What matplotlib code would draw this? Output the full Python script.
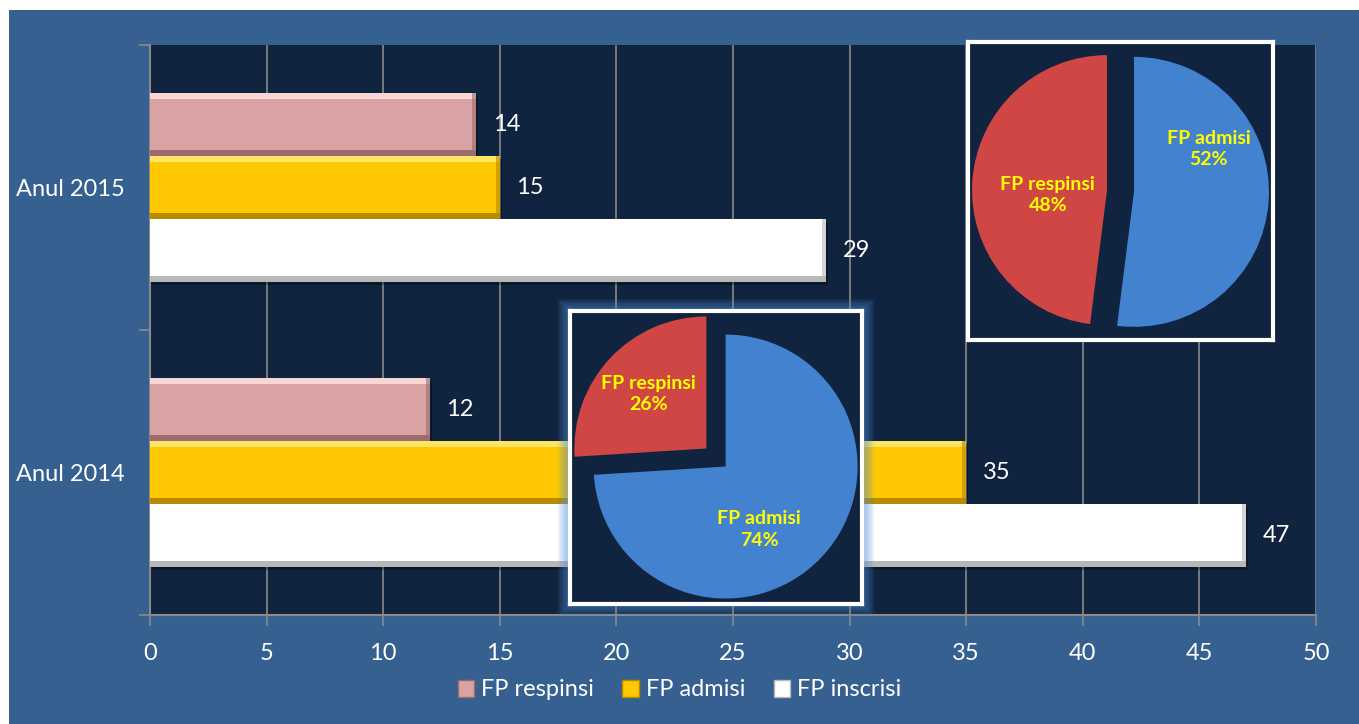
import numpy as np
import matplotlib.pyplot as plt
from matplotlib.patches import Rectangle, Patch

plt.rcParams['font.family'] = ['Lato', 'DejaVu Sans']

# data
years = ['Anul 2014', 'Anul 2015']
series = ['FP respinsi', 'FP admisi', 'FP inscrisi']
respinsi = [12, 14]
admisi = [35, 15]
inscrisi = [47, 29]

pie_labels = ['FP respinsi', 'FP admisi']
pie_2014 = [26, 74]
pie_2015 = [48, 52]

# colours: base, light (top), dark (bottom/right)
bar_colors = {
    'FP respinsi': ('#d9a3a3', '#f7d6d6', '#9c6b6b'),
    'FP admisi': ('#ffc800', '#ffe566', '#b88a00'),
    'FP inscrisi': ('#ffffff', '#ffffff', '#b8b8b8'),
}
bg_blue = '#36608f'
plot_bg = '#10233f'
grid_c = '#8a8a8a'

fig = plt.figure(figsize=(13.59, 7.24), dpi=100, facecolor='white')
fig.patches.append(Rectangle((9 / 1359, 0), 1, 1 - 10 / 724, transform=fig.transFigure,
                             facecolor=bg_blue, edgecolor='none', zorder=-10))

ax = fig.add_axes([150 / 1359, 109 / 724, 1166 / 1359, 570 / 724])
ax.set_facecolor(plot_bg)

h = 0.221
y = np.arange(len(years))
offsets = {'FP respinsi': h, 'FP admisi': 0.0, 'FP inscrisi': -h}
values = {'FP respinsi': respinsi, 'FP admisi': admisi, 'FP inscrisi': inscrisi}

hl = 0.02   # bevel thickness, vertical
hr = 0.18   # bevel thickness, horizontal
for name in series:
    base, light, dark = bar_colors[name]
    yy = y + offsets[name]
    vals = np.array(values[name], dtype=float)
    # drop shadow
    ax.barh(yy - 0.01, vals + 0.08, height=h, color='black', alpha=0.3, zorder=2, linewidth=0)
    ax.barh(yy, vals, height=h, color=base, zorder=3, linewidth=0)
    ax.barh(yy + h / 2 - hl / 2, vals, height=hl, color=light, zorder=4, linewidth=0)
    ax.barh(yy - h / 2 + hl / 2, vals, height=hl, color=dark, zorder=4, linewidth=0)
    ax.barh(yy, hr, left=vals - hr, height=h, color=dark, alpha=0.6, zorder=4, linewidth=0)
    for yi, v in zip(yy, vals):
        ax.text(v + 0.7, yi, f'{v:.0f}', color='white', fontsize=17, va='center', ha='left', zorder=5)

ax.set_xlim(0, 50)
ax.set_ylim(-0.5, 1.5)
ax.set_xticks(np.arange(0, 51, 5))
ax.set_yticks(y)
ax.set_yticklabels(years)
ax.set_yticks([-0.5, 0.5, 1.5], minor=True)
ax.tick_params(axis='y', which='major', length=0, pad=18, labelsize=17, labelcolor='white')
ax.tick_params(axis='y', which='minor', length=8, color=grid_c, width=1.2)
ax.tick_params(axis='x', length=8, color=grid_c, width=1.2, pad=12, labelsize=17, labelcolor='white')
ax.grid(axis='x', color=grid_c, linewidth=1.2, zorder=1)
ax.set_axisbelow(True)
for side in ['top', 'right']:
    ax.spines[side].set_visible(False)
for side in ['left', 'bottom']:
    ax.spines[side].set_color(grid_c)
    ax.spines[side].set_linewidth(1.5)

handles = [Patch(facecolor=bar_colors[n][0], edgecolor=bar_colors[n][2], linewidth=1) for n in series]
fig.legend(handles, series, loc='center', bbox_to_anchor=(0.5, 34 / 724), ncol=3, frameon=False,
           fontsize=17, labelcolor='white', handlelength=0.7, handleheight=0.7,
           handletextpad=0.3, columnspacing=1.2)

pie_colors = ['#d04644', '#4282cf']


def inset_pie(rect, vals, r_px, label_pos, glow=False):
    x0, y0, w, hgt = rect
    if glow:
        for k in range(6, 0, -1):
            pad = k * 2.0
            fig.patches.append(Rectangle(((x0 - pad) / 1359, (724 - y0 - hgt - pad) / 724),
                                         (w + 2 * pad) / 1359, (hgt + 2 * pad) / 724,
                                         transform=fig.transFigure, facecolor='#4f8fd6',
                                         edgecolor='none', alpha=0.12, zorder=1))
    iax = fig.add_axes([x0 / 1359, (724 - y0 - hgt) / 724, w / 1359, hgt / 724], zorder=5)
    wedges, _ = iax.pie(vals, colors=pie_colors, startangle=90, counterclock=True,
                        explode=[0.1, 0.1], wedgeprops=dict(linewidth=0))
    iax.set_frame_on(True)
    iax.set_facecolor(plot_bg)
    for wdg, lab, v, (ang, dist) in zip(wedges, pie_labels, vals, label_pos):
        cx, cy = wdg.center
        t = np.deg2rad(ang)
        iax.text(cx + dist * np.cos(t), cy + dist * np.sin(t), f'{lab}\n{v}%',
                 ha='center', va='center', color='#ffff00', fontsize=14, fontweight='bold',
                 linespacing=1.3)
    iax.set_xlim(-w / 2 / r_px, w / 2 / r_px)
    iax.set_ylim(-hgt / 2 / r_px, hgt / 2 / r_px)
    iax.set_aspect('equal')
    iax.set_xticks([])
    iax.set_yticks([])
    for s in iax.spines.values():
        s.set_visible(True)
        s.set_color('white')
        s.set_linewidth(3)


inset_pie((570, 311, 292, 293), pie_2014, 132, [(136.8, 0.6), (298, 0.54)], glow=True)
inset_pie((968, 42, 305, 298), pie_2015, 135, [(185, 0.44), (30, 0.64)])

fig.savefig('out.png', dpi=100, facecolor=fig.get_facecolor())
